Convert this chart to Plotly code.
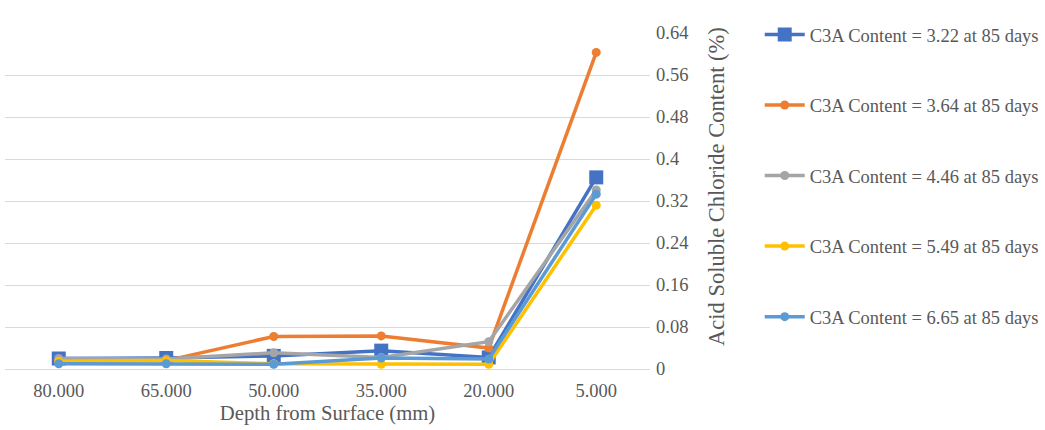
import plotly.graph_objects as go

depths = ["80.000", "65.000", "50.000", "35.000", "20.000", "5.000"]
series_names = [
    "C3A Content = 3.22 at 85 days",
    "C3A Content = 3.64 at 85 days",
    "C3A Content = 4.46 at 85 days",
    "C3A Content = 5.49 at 85 days",
    "C3A Content = 6.65 at 85 days",
]
c3a_322 = [0.020, 0.021, 0.025, 0.035, 0.022, 0.365]
c3a_364 = [0.015, 0.016, 0.062, 0.063, 0.040, 0.603]
c3a_446 = [0.020, 0.019, 0.031, 0.022, 0.052, 0.341]
c3a_549 = [0.015, 0.016, 0.010, 0.009, 0.009, 0.312]
c3a_665 = [0.010, 0.010, 0.009, 0.021, 0.019, 0.333]
y_ticks = [0, 0.08, 0.16, 0.24, 0.32, 0.4, 0.48, 0.56, 0.64]
y_title = "Acid Soluble Chloride Content (%)"

series = [c3a_322, c3a_364, c3a_446, c3a_549, c3a_665]
colors = ["#4472C4", "#ED7D31", "#A5A5A5", "#FFC000", "#5B9BD5"]
symbols = ["square", "circle", "circle", "circle", "circle"]
sizes = [14, 9, 9, 9, 9]

fig = go.Figure()
for i, (name, vals) in enumerate(zip(series_names, series)):
    fig.add_trace(go.Scatter(
        x=depths, y=vals, name=name, mode="lines+markers",
        line=dict(color=colors[i], width=3.5),
        marker=dict(color=colors[i], symbol=symbols[i], size=sizes[i]),
        legendgroup=f"g{i}",
    ))

font_fam = "Liberation Serif"
fig.update_layout(
    width=1045, height=430,
    margin=dict(l=5, r=395, t=33, b=61, autoexpand=False),
    paper_bgcolor="white", plot_bgcolor="white",
    font=dict(family=font_fam, color="#595959", size=18),
    showlegend=True,
    legend=dict(
        xref="container", x=0.727, y=0.963, yref="container", yanchor="top",
        xanchor="left",
        traceorder="grouped", tracegroupgap=43.5,
        font=dict(family=font_fam, size=18.5, color="#595959"),
        itemwidth=40, maxheight=1.0,
    ),
    xaxis=dict(
        type="category", range=[-0.5, 5.5], showgrid=False, showline=False, ticks="",
        tickfont=dict(family=font_fam, size=18.5), ticklabelstandoff=8,
        title=dict(text="Depth from Surface (mm)", font=dict(family=font_fam, size=20.7), standoff=6),
        zeroline=False,
    ),
    yaxis=dict(
        side="right", range=[0, 0.64], tickvals=y_ticks,
        ticktext=[str(v) for v in y_ticks],
        showgrid=True, gridcolor="#D9D9D9", gridwidth=1.3,
        zeroline=True, zerolinecolor="#D9D9D9", zerolinewidth=1.3,
        showline=False, ticks="", ticklabelstandoff=5,
        tickfont=dict(family=font_fam, size=18.5),
    ),
    annotations=[dict(
        text=y_title, xref="paper", yref="paper", x=1.1039, y=0.542,
        xanchor="center", yanchor="middle", textangle=-90, showarrow=False,
        font=dict(family=font_fam, size=22.5, color="#595959"),
    )],
)

fig.write_html("out.html", config={"displayModeBar": False},
               post_script="document.body.style.margin='0';")
